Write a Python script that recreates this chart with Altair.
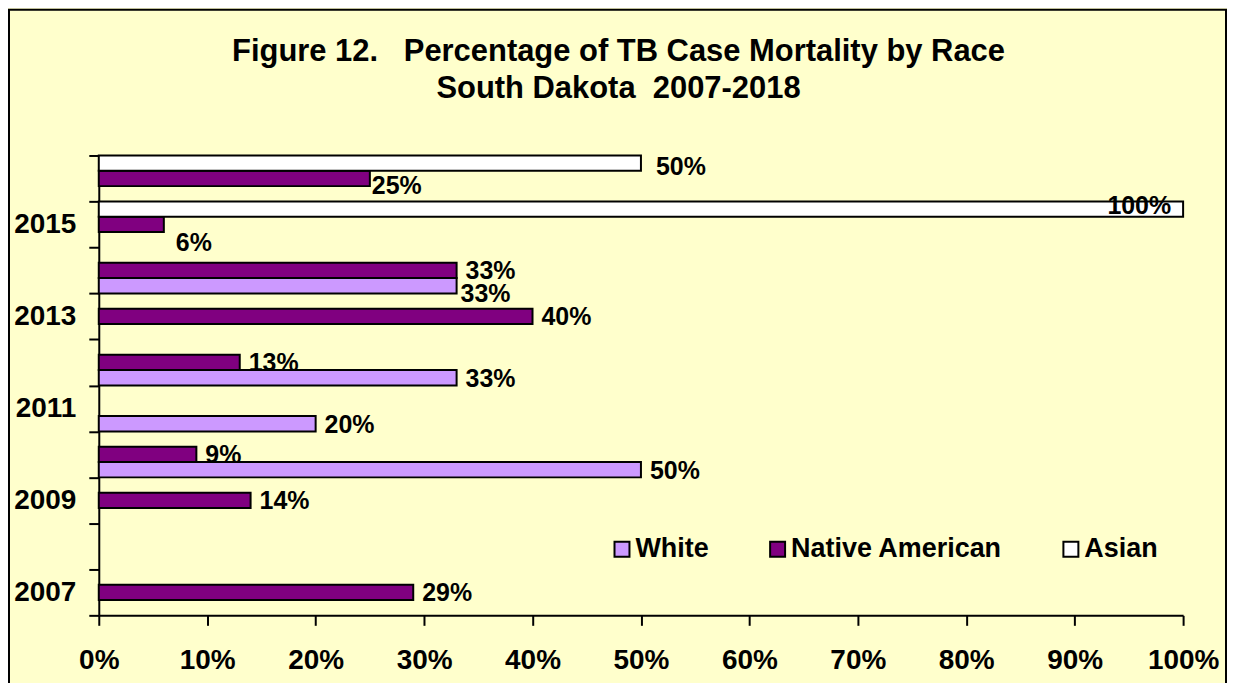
import altair as alt
import pandas as pd

# ---- data ----
years = [2007, 2008, 2009, 2010, 2011, 2012, 2013, 2014, 2015, 2016]
white = [None, None, None, 50, 20, 33, None, 33, None, None]
native_american = [29, None, 14, 9, None, 13, 40, 33, 6, 25]
asian = [None, None, None, None, None, None, None, None, 100, 50]
races = ["White", "Native American", "Asian"]
race_colors = ["#CC99FF", "#800080", "#FFFFFF"]
x_ticks = [0, 10, 20, 30, 40, 50, 60, 70, 80, 90, 100]
title_line1 = "Figure 12.\u00a0\u00a0\u00a0Percentage of TB Case Mortality by Race"
title_line2 = "South Dakota\u00a0\u00a02007-2018"

# label placement tweaks (style only): (year, race) -> (dx, dy)
label_nudges = {
    (2016, "Asian"): (15, 4),
    (2016, "Native American"): (2, 8),
    (2015, "Native American"): (12, 19),
    (2014, "White"): (4, 8),
}

rows = []
for race, series in zip(races, [white, native_american, asian]):
    for yr, v in zip(years, series):
        if v is not None:
            rows.append({"Year": yr, "Race": race, "Pct": v, "Label": f"{v}%"})
df = pd.DataFrame(rows)

W, H = 1087, 461
FONT = "Liberation Sans"
years_desc = sorted(years, reverse=True)

x_enc = alt.X(
    "Pct:Q",
    scale=alt.Scale(domain=[0, 100], nice=False),
    axis=alt.Axis(
        title=None, grid=False, values=x_ticks,
        labelExpr="datum.value + '%'",
        labelFont=FONT, labelFontSize=28, labelFontWeight="bold", labelColor="black",
        labelPadding=21, labelFlush=False, labelOverlap=False,
        tickSize=10, tickWidth=2, tickColor="black",
        domainColor="black", domainWidth=2,
    ),
)
y_enc = alt.Y(
    "Year:O",
    scale=alt.Scale(domain=years_desc, paddingInner=0, paddingOuter=0),
    axis=alt.Axis(
        title=None, grid=False,
        labelExpr="datum.value % 2 == 1 ? datum.label : ''",
        labelFont=FONT, labelFontSize=28, labelFontWeight="bold", labelColor="black",
        labelPadding=13,
        tickBand="extent", tickSize=10, tickWidth=2, tickColor="black",
        domainColor="black", domainWidth=2,
    ),
)
yoff_enc = alt.YOffset(
    "Race:N",
    scale=alt.Scale(domain=["Asian", "Native American", "White"], paddingInner=0, paddingOuter=0),
)

base = alt.Chart(df)

bars = base.mark_bar(stroke="black", strokeWidth=2, cornerRadius=0).encode(
    x=x_enc,
    y=y_enc,
    yOffset=yoff_enc,
    color=alt.Color(
        "Race:N",
        scale=alt.Scale(domain=races, range=race_colors),
        legend=alt.Legend(
            title=None, orient="none", legendX=511, legendY=381,
            direction="horizontal", symbolType="square", symbolSize=225,
            symbolStrokeColor="black", symbolStrokeWidth=2,
            labelFont=FONT, labelFontSize=27, labelFontWeight="bold", labelColor="black",
            labelLimit=400, labelOffset=0, columnPadding=55,
        ),
    ),
)

label_style = dict(font=FONT, fontSize=25, fontWeight="bold", color="black", baseline="middle")

nudge_tests = [f"(datum.Year == {yr} && datum.Race == '{rc}')" for (yr, rc) in label_nudges]
nudge_expr = " || ".join(nudge_tests) if nudge_tests else "false"
default_filter = f"datum.Pct < 100 && !({nudge_expr})"

label_layers = [
    base.transform_filter(default_filter).mark_text(
        align="left", dx=9, dy=1, **label_style
    ).encode(x="Pct:Q", y="Year:O", yOffset="Race:N", text="Label:N"),
    base.transform_filter("datum.Pct >= 100").mark_text(
        align="right", dx=-12, dy=-3, **label_style
    ).encode(x="Pct:Q", y="Year:O", yOffset="Race:N", text="Label:N"),
]
for (yr, rc), (ddx, ddy) in label_nudges.items():
    label_layers.append(
        base.transform_filter(f"datum.Year == {yr} && datum.Race == '{rc}'").mark_text(
            align="left", dx=ddx, dy=ddy, **label_style
        ).encode(x="Pct:Q", y="Year:O", yOffset="Race:N", text="Label:N")
    )

frame = alt.Chart(pd.DataFrame({"f": [0]})).mark_rect(
    filled=False, stroke="black", strokeWidth=2, clip=False
).encode(
    x=alt.value(-90), x2=alt.value(W + 43), y=alt.value(-146), y2=alt.value(H + 300)
)

title_style = dict(font=FONT, fontSize=31, fontWeight="bold", color="black",
                   align="center", baseline="alphabetic")
t1 = alt.Chart(pd.DataFrame({"t": [title_line1]})).mark_text(**title_style).encode(
    x=alt.value(521), y=alt.value(-95), text="t:N"
)
t2 = alt.Chart(pd.DataFrame({"t": [title_line2]})).mark_text(**title_style).encode(
    x=alt.value(521), y=alt.value(-58), text="t:N"
)

chart = alt.layer(frame, bars, *label_layers, t1, t2).properties(
    width=W, height=H,
    padding={"left": 91, "top": 147, "right": 44, "bottom": 67},
    autosize=alt.AutoSizeParams(type="none"),
    background="#FFFFCC",
).configure_view(stroke="transparent")

chart.save("out.html", embed_options={"renderer": "svg", "actions": False})
